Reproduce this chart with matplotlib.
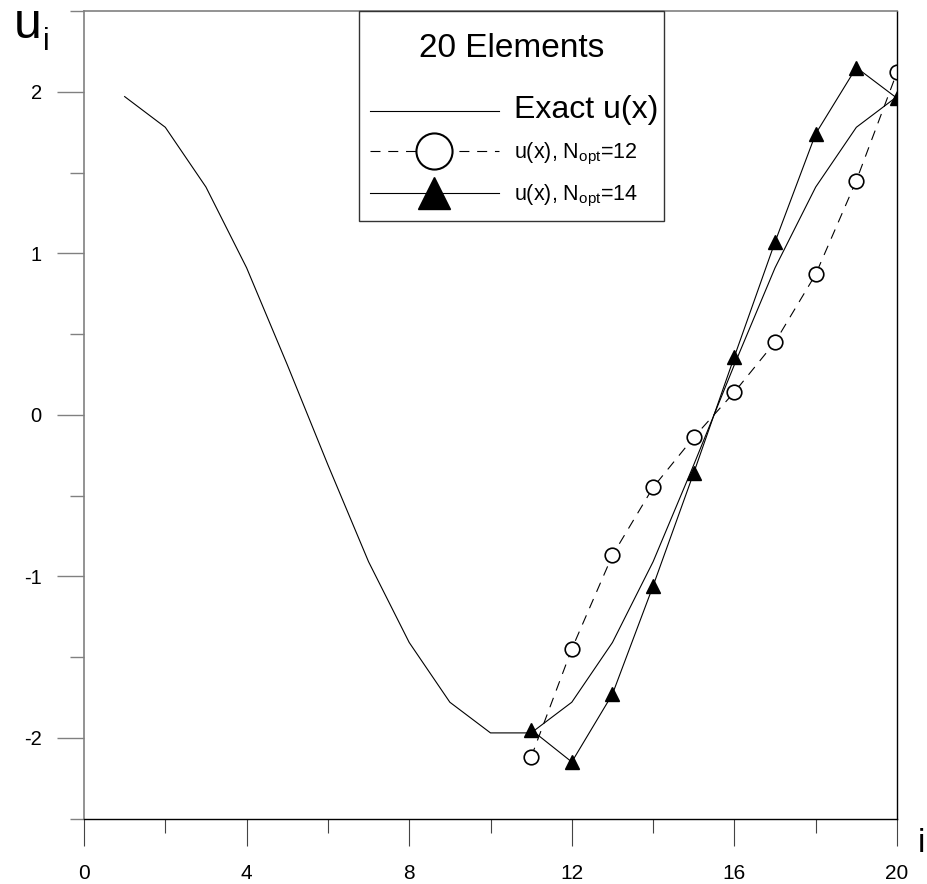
import matplotlib
matplotlib.use("Agg")
import matplotlib.pyplot as plt
from matplotlib.lines import Line2D
from matplotlib.patches import Rectangle
from matplotlib.ticker import MultipleLocator

plt.rcParams["font.family"] = ["Liberation Sans", "DejaVu Sans"]
plt.rcParams["mathtext.fontset"] = "custom"
plt.rcParams["mathtext.rm"] = "Liberation Sans"
plt.rcParams["mathtext.it"] = "Liberation Sans:italic"
plt.rcParams["axes.unicode_minus"] = False

# exact solution at the nodes
i_exact = [1, 2, 3, 4, 5, 6, 7, 8, 9, 10, 11, 12, 13, 14, 15, 16, 17, 18, 19, 20]
u_exact = [1.97, 1.78, 1.41, 0.91, 0.31, -0.31, -0.91, -1.41, -1.78, -1.97,
           -1.97, -1.78, -1.41, -0.91, -0.31, 0.31, 0.91, 1.41, 1.78, 1.97]

# approximations on the right half of the domain
i_opt = [11, 12, 13, 14, 15, 16, 17, 18, 19, 20]
u_n12 = [-2.12, -1.45, -0.87, -0.45, -0.14, 0.14, 0.45, 0.87, 1.45, 2.12]
u_n14 = [-1.95, -2.15, -1.73, -1.06, -0.36, 0.36, 1.07, 1.74, 2.15, 1.96]

legend_title = "20 Elements"
labels = ["Exact u(x)", "u(x), N$_{\\rm opt}$=12", "u(x), N$_{\\rm opt}$=14"]

fig = plt.figure(figsize=(9.27, 8.84), dpi=100)
ax = fig.add_axes([84 / 927, 1 - 818.5 / 884, 813 / 927, 807.5 / 884])

ax.plot(i_exact, u_exact, color="black", lw=0.8)
ax.plot(i_opt, u_n12, color="black", lw=0.8, ls=(0, (9, 7)), marker="o",
        ms=10.5, mfc="white", mec="black", mew=1.2)
ax.plot(i_opt, u_n14, color="black", lw=0.8, marker="^", ms=9.5,
        mfc="black", mec="black")

ax.set_xlim(0, 20)
ax.set_ylim(-2.5, 2.5)
ax.xaxis.set_major_locator(MultipleLocator(4))
ax.xaxis.set_minor_locator(MultipleLocator(2))
ax.yaxis.set_major_locator(MultipleLocator(1))
ax.yaxis.set_minor_locator(MultipleLocator(0.5))

ax.tick_params(axis="x", which="major", direction="out", length=19.5, width=0.8,
               color="#444444", labelsize=15, pad=13)
ax.tick_params(axis="x", which="minor", direction="out", length=10, width=0.8,
               color="#444444")
ax.tick_params(axis="y", which="major", direction="out", length=19.5, width=1.0,
               color="#808080", labelsize=14.5, pad=11)
ax.tick_params(axis="y", which="minor", direction="out", length=10, width=1.0,
               color="#808080")

for side, col, lw in (("left", "#808080", 1.2), ("top", "#808080", 1.2),
                      ("right", "black", 1.0), ("bottom", "black", 1.0)):
    ax.spines[side].set_color(col)
    ax.spines[side].set_linewidth(lw)

# legend box with its heading, entries placed inside without their own frame
ax.add_patch(Rectangle((0.338, 0.740), 0.375, 0.26, transform=ax.transAxes,
                       facecolor="white", edgecolor="#333333", lw=1.0,
                       clip_on=False, zorder=4))
ax.text(0.5265, 0.9530, legend_title, transform=ax.transAxes, fontsize=24,
        ha="center", va="center", zorder=6)

handles = [
    Line2D([], [], color="black", lw=0.8),
    Line2D([], [], color="black", lw=0.8, ls=(0, (9, 7)), marker="o", ms=26,
           mfc="white", mec="black", mew=1.5),
    Line2D([], [], color="black", lw=0.8, marker="^", ms=23, mfc="black",
           mec="black"),
]
leg = ax.legend(handles, labels, loc="center", bbox_to_anchor=(0.529, 0.8250),
                borderaxespad=0, frameon=False, fontsize=15.5,
                handlelength=6.0, handletextpad=0.7, labelspacing=0.74,
                borderpad=0, numpoints=1)
leg.set_zorder(5)
leg.get_texts()[0].set_fontsize(23)

fig.text(14 / 927, 1 - 38 / 884, "u", fontsize=36, va="baseline")
fig.text(43 / 927, 1 - 50 / 884, "i", fontsize=22, va="baseline")
fig.text(918 / 927, 1 - 852 / 884, "i", fontsize=24, va="baseline")

fig.savefig("out.png", dpi=100)
